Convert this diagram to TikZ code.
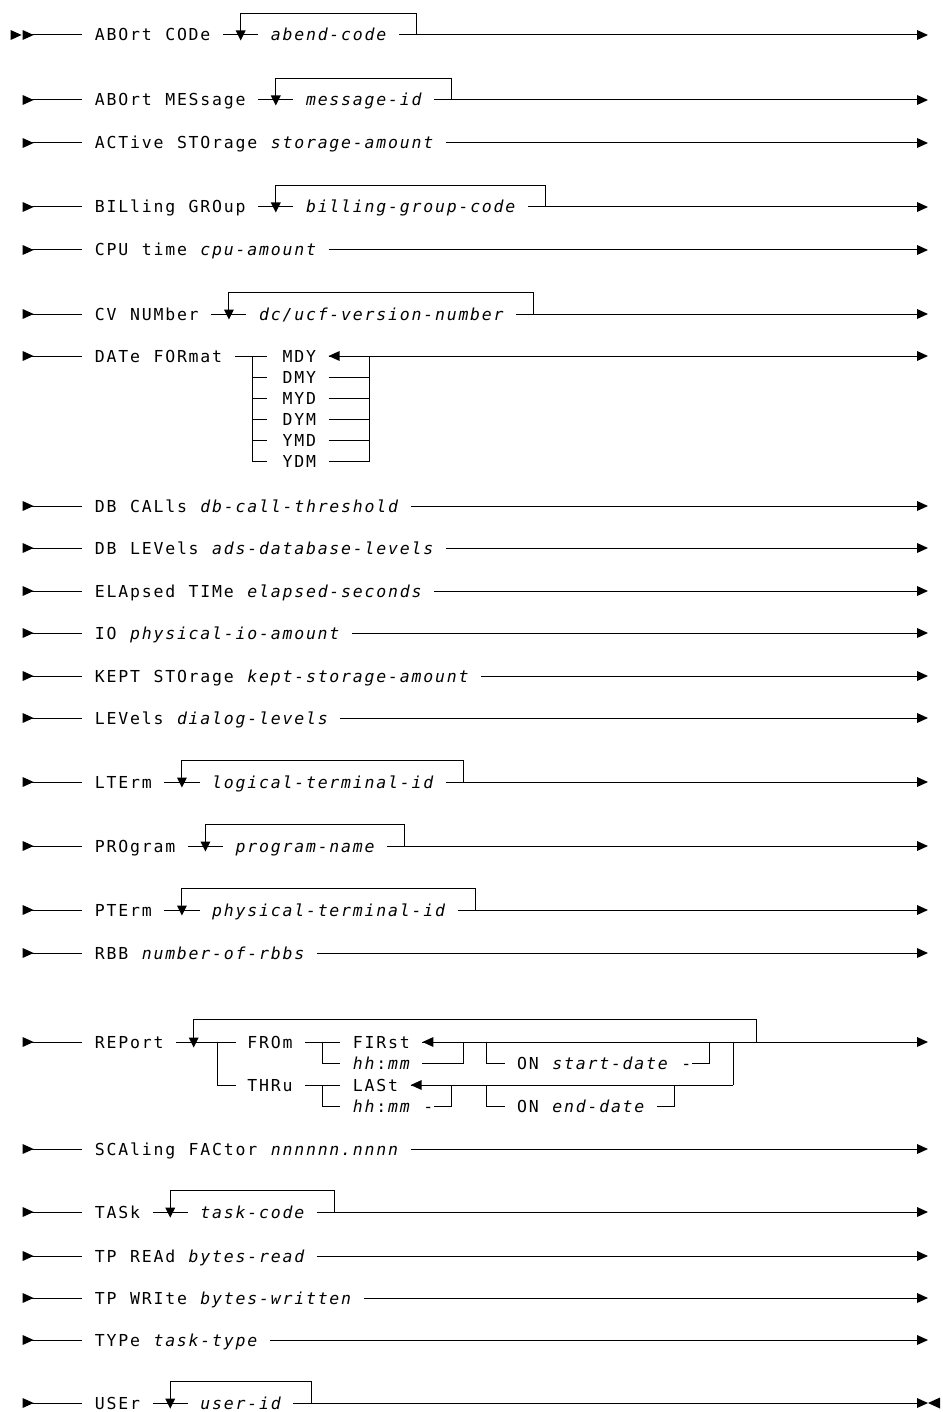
\documentclass[tikz,border=0pt]{standalone}
\usepackage{fontspec}
\newfontfamily\dmono{DejaVu Sans Mono}
\newcommand\dtf{\dmono\fontsize{16.5}{19}\selectfont}
\ExplSyntaxOn
\NewDocumentCommand\gw{m}{\tl_map_inline:nn{#1}{\makebox[11.73pt][c]{##1}}}
\ExplSyntaxOff
\newcommand\colx[1]{(94+11.73*(#1))}
\newcommand\colc[1]{(99.865+11.73*(#1))}
\tikzset{
 txt/.style={anchor=base west,inner sep=0pt,outer sep=0pt,font=\dtf},
 var/.style={txt,font=\dtf\itshape},
 ln/.style={line width=1pt},
}
\newcommand\startrow[1]{\fill[shift={(22.6,{#1})}] (0,-5) -- (11,0) -- (0,5) -- cycle; \draw[ln] (30,#1) -- (82.3,#1);}
\newcommand\finarr[1]{\fill[shift={(917,{#1})}] (0,-5) -- (11,0) -- (0,5) -- cycle;}
\newcommand\larr[2]{\fill[shift={({#1},{#2})}] (0,0) -- (11,-5) -- (11,5) -- cycle;}
\newcommand\darr[2]{\fill[shift={({#1},{#2})}] (-5,-4.5) -- (5,-4.5) -- (0,5.5) -- cycle;}
\newcommand\simplerow[6]{%
 \startrow{#2}
 \node[txt] (#1k) at (94,{#2+6}) {\gw{#3}};
 \node[var] (#1v) at ({\colx{#4}},{#2+6}) {\gw{#5}};
 \draw[ln] ({\colx{#6}},#2) -- (917,#2);
 \finarr{#2}}
\newcommand\looprow[6]{%
 \startrow{#2}
 \node[txt] (#1k) at (94,{#2+6}) {\gw{#3}};
 \draw[ln] ({\colx{#4-1}},#2) -- ({\colx{#4+2}},#2);
 \node[var] (#1v) at ({\colx{#4+3}},{#2+6}) {\gw{#5}};
 \draw[ln] ({\colc{#4}},#2) -- ({\colc{#4}},{#2-21.5}) -- ({\colc{#6}},{#2-21.5}) -- ({\colc{#6}},#2);
 \darr{\colc{#4}}{#2}
 \draw[ln] ({\colx{#6-1}},#2) -- (917,#2);}
\begin{document}
\begin{tikzpicture}[x=1pt,y=-1pt]
\useasboundingbox (0,0) rectangle (942,1412);
% 1
\looprow{ra}{35}{ABOrt~CODe}{12}{abend-code}{27}
\finarr{35}
\fill[shift={(10.6,35)}] (0,-5) -- (11,0) -- (0,5) -- cycle;
% 2
\looprow{rb}{100}{ABOrt~MESsage}{15}{message-id}{30}
\finarr{100}
% 3
\simplerow{rc}{143}{ACTive~STOrage}{15}{storage-amount}{30}
% 4
\looprow{rd}{207}{BILling~GROup}{15}{billing-group-code}{38}
\finarr{207}
% 5
\simplerow{re}{250}{CPU~time}{9}{cpu-amount}{20}
% 6
\looprow{rf}{314}{CV~NUMber}{11}{dc/ucf-version-number}{37}
\finarr{314}
% 7 DATe FORmat
\startrow{356}
\node[txt] (dk) at (94,362) {\gw{DATe~FORmat}};
\draw[ln] ({\colx{12}},356) -- ({\colx{15}-3},356);
\draw[ln] ({\colc{13}},356) -- ({\colc{13}},461);
\draw[ln] ({\colc{23}},356) -- ({\colc{23}},461);
\node[txt] (dmdy) at ({\colx{16}},362) {\gw{MDY}};
\node[txt] (ddmy) at ({\colx{16}},383) {\gw{DMY}};
\node[txt] (dmyd) at ({\colx{16}},404) {\gw{MYD}};
\node[txt] (ddym) at ({\colx{16}},425) {\gw{DYM}};
\node[txt] (dymd) at ({\colx{16}},446) {\gw{YMD}};
\node[txt] (dydm) at ({\colx{16}},467) {\gw{YDM}};
\foreach \yy in {377,398,419,440,461}{
 \draw[ln] ({\colc{13}},\yy) -- ({\colx{15}-3},\yy);
 \draw[ln] ({\colx{20}},\yy) -- ({\colc{23}},\yy);
}
\larr{\colx{20}}{356}
\draw[ln] ({\colx{20}},356) -- (917,356);
\finarr{356}
% 8-13
\simplerow{rh}{506}{DB~CALls}{9}{db-call-threshold}{27}
\simplerow{ri}{548}{DB~LEVels}{10}{ads-database-levels}{30}
\simplerow{rj}{591}{ELApsed~TIMe}{13}{elapsed-seconds}{29}
\simplerow{rk}{633}{IO}{3}{physical-io-amount}{22}
\simplerow{rl}{676}{KEPT~STOrage}{13}{kept-storage-amount}{33}
\simplerow{rm}{718}{LEVels}{7}{dialog-levels}{21}
% 14-16
\looprow{rn}{782}{LTErm}{7}{logical-terminal-id}{31}
\finarr{782}
\looprow{ro}{846}{PROgram}{9}{program-name}{26}
\finarr{846}
\looprow{rp}{910}{PTErm}{7}{physical-terminal-id}{32}
\finarr{910}
% 17
\simplerow{rq}{953}{RBB}{4}{number-of-rbbs}{19}
% 18 REPort
\startrow{1042}
\node[txt] (rrk) at (94,1048) {\gw{REPort}};
\draw[ln] ({\colx{7}},1042) -- ({\colx{12}+1},1042);
\draw[ln] ({\colc{10}},1042) -- ({\colc{10}},1085) -- ({\colx{12}+1},1085);
\node[txt] (rfrom) at ({\colx{13}},1048) {\gw{FROm}};
\node[txt] (rthru) at ({\colx{13}},1091) {\gw{THRu}};
\draw[ln] ({\colx{18}},1042) -- ({\colx{21}},1042);
\draw[ln] ({\colc{19}},1042) -- ({\colc{19}},1063) -- ({\colx{21}},1063);
\draw[ln] ({\colx{18}},1085) -- ({\colx{21}},1085);
\draw[ln] ({\colc{19}},1085) -- ({\colc{19}},1106) -- ({\colx{21}},1106);
\node[txt] (rfirst) at ({\colx{22}},1048) {\gw{FIRst}};
\node[txt] (rhh1) at ({\colx{22}},1069) {{\itshape\gw{hh}}\gw{:}{\itshape\gw{mm}}};
\node[txt] (rlast) at ({\colx{22}},1091) {\gw{LASt}};
\node[txt] (rhh2) at ({\colx{22}},1112) {{\itshape\gw{hh}}\gw{:}{\itshape\gw{mm}}\gw{~-}};
\larr{\colx{28}}{1042}
\draw[ln] ({\colx{28}},1042) -- (917,1042);
\finarr{1042}
\draw[ln] ({\colx{28}},1063) -- ({\colc{31}},1063) -- ({\colc{31}},1042);
\draw[ln] ({\colc{33}},1042) -- ({\colc{33}},1063) -- ({\colx{35}},1063);
\node[txt] (ron1) at ({\colx{36}},1069) {\gw{ON~}{\itshape\gw{start-date}}\gw{~-}};
\draw[ln] ({\colx{51}},1063) -- ({\colc{52}},1063) -- ({\colc{52}},1042);
\draw[ln] ({\colc{54}},1042) -- ({\colc{54}},1085);
\larr{\colx{27}}{1085}
\draw[ln] ({\colx{27}},1085) -- ({\colc{54}},1085);
\draw[ln] ({\colx{29}},1106) -- ({\colc{30}},1106) -- ({\colc{30}},1085);
\draw[ln] ({\colc{33}},1085) -- ({\colc{33}},1106) -- ({\colx{35}},1106);
\node[txt] (ron2) at ({\colx{36}},1112) {\gw{ON~}{\itshape\gw{end-date}}};
\draw[ln] ({\colx{48}},1106) -- ({\colc{49}},1106) -- ({\colc{49}},1085);
\draw[ln] ({\colc{8}},1042) -- ({\colc{8}},1019) -- ({\colc{56}},1019) -- ({\colc{56}},1042);
\darr{\colc{8}}{1042}
% 19
\simplerow{rs}{1149}{SCAling~FACtor}{15}{nnnnnn.nnnn}{27}
% 20
\looprow{rt}{1212}{TASk}{6}{task-code}{20}
\finarr{1212}
% 21-23
\simplerow{ru}{1256}{TP~REAd}{8}{bytes-read}{19}
\simplerow{rv}{1298}{TP~WRIte}{9}{bytes-written}{23}
\simplerow{rw}{1340}{TYPe}{5}{task-type}{15}
% 24
\looprow{rx}{1403}{USEr}{6}{user-id}{18}
\fill[shift={(917,1403)}] (0,-5) -- (11,0) -- (0,5) -- cycle;
\fill[shift={(928,1403)}] (0,0) -- (12,-5.5) -- (12,5.5) -- cycle;
\end{tikzpicture}
\end{document}
